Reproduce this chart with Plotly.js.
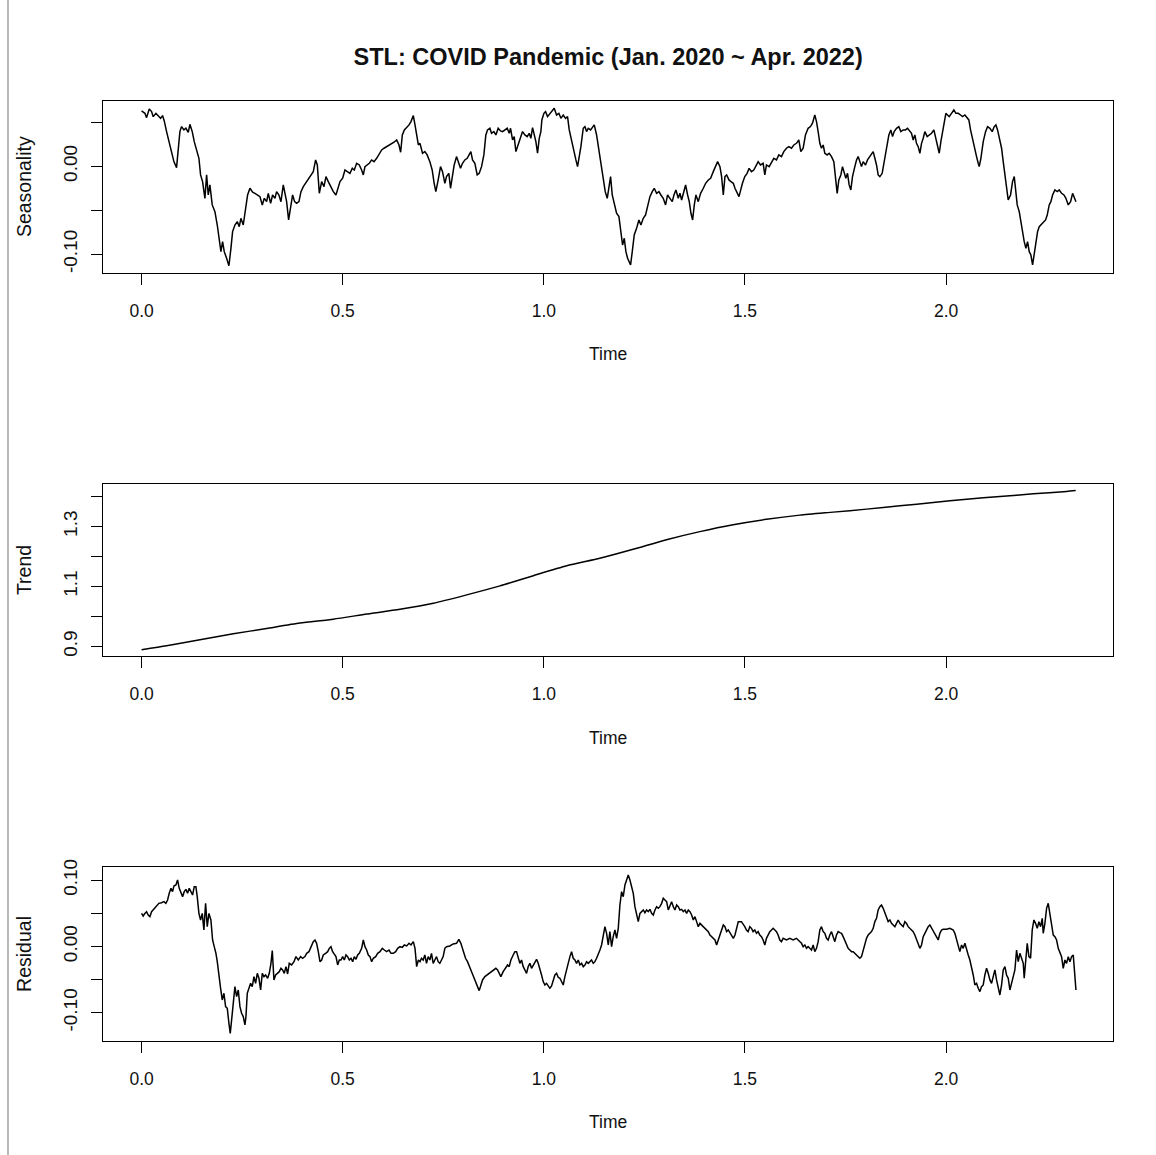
<!DOCTYPE html>
<html>
<head>
<meta charset="utf-8">
<script src="https://cdn.plot.ly/plotly-3.0.1.min.js"></script>
<style>html,body{margin:0;padding:0;background:#fff;}#chart{width:1156px;height:1155px;}</style>
</head>
<body>
<div id="chart"></div>
<script>
// ---------- data ----------
var chartTitle = "STL: COVID Pandemic (Jan. 2020 ~ Apr. 2022)";
var timeTickVals = [0, 0.5, 1, 1.5, 2];
var timeTickText = ["0.0", "0.5", "1.0", "1.5", "2.0"];
var seasTickVals = [-0.10, -0.05, 0.00, 0.05];
var seasTickText = ["-0.10", "", "0.00", ""];
var trendTickVals = [0.9, 1.0, 1.1, 1.2, 1.3, 1.4];
var trendTickText = ["0.9", "", "1.1", "", "1.3", ""];
var residTickVals = [-0.10, -0.05, 0.00, 0.05, 0.10];
var residTickText = ["-0.10", "", "0.00", "", "0.10"];

var seasTime = [
0.0000,0.0083,0.0124,0.0191,0.0249,0.0290,0.0356,0.0415,0.0473,0.0522,
0.0564,0.0622,0.0688,0.0746,0.0804,0.0870,0.0912,0.0953,0.0995,0.1053,
0.1103,0.1161,0.1202,0.1260,0.1310,0.1368,0.1426,0.1467,0.1517,0.1575,
0.1617,0.1658,0.1699,0.1757,0.1824,0.1882,0.1932,0.1973,0.2014,0.2056,
0.2114,0.2172,0.2222,0.2263,0.2321,0.2379,0.2429,0.2470,0.2528,0.2586,
0.2636,0.2694,0.2761,0.2819,0.2877,0.2943,0.3001,0.3051,0.3109,0.3150,
0.3208,0.3258,0.3316,0.3357,0.3415,0.3465,0.3523,0.3573,0.3606,0.3656,
0.3706,0.3755,0.3805,0.3855,0.3913,0.3963,0.4021,0.4079,0.4145,0.4203,
0.4269,0.4327,0.4369,0.4419,0.4477,0.4535,0.4584,0.4642,0.4700,0.4767,
0.4833,0.4875,0.4933,0.4999,0.5057,0.5115,0.5181,0.5239,0.5289,0.5347,
0.5413,0.5471,0.5513,0.5554,0.5612,0.5662,0.5720,0.5778,0.5844,0.5902,
0.5969,0.6027,0.6093,0.6159,0.6217,0.6276,0.6342,0.6400,0.6441,0.6483,
0.6533,0.6591,0.6649,0.6698,0.6756,0.6798,0.6839,0.6881,0.6922,
0.6984,0.7042,0.7100,0.7167,0.7225,0.7274,0.7316,0.7374,0.7432,0.7482,
0.7540,0.7581,0.7639,0.7681,0.7722,0.7772,0.7830,0.7888,0.7929,0.7979,
0.8037,0.8095,0.8145,0.8186,0.8228,0.8286,0.8344,0.8394,0.8452,0.8510,
0.8559,0.8601,0.8659,0.8700,0.8758,0.8808,0.8866,0.8924,0.8974,0.9032,
0.9090,0.9140,0.9173,0.9223,0.9264,0.9306,0.9364,0.9422,0.9471,0.9529,
0.9587,0.9637,0.9678,0.9720,0.9761,0.9803,0.9844,0.9886,0.9927,0.9952,
1.0002,1.0043,1.0093,1.0151,1.0209,1.0259,1.0317,1.0375,1.0425,1.0483,
1.0541,1.0590,1.0632,1.0690,1.0748,1.0798,1.0839,1.0881,1.0922,1.0980,
1.1022,1.1063,1.1105,1.1163,1.1212,1.1254,1.1312,1.1370,1.1420,1.1478,
1.1527,1.1577,1.1618,1.1660,1.1701,1.1751,1.1809,1.1867,1.1917,1.1958,
1.2000,1.2041,1.2083,1.2124,1.2157,1.2199,1.2248,1.2306,1.2364,1.2414,
1.2472,1.2530,1.2580,1.2638,1.2696,1.2746,1.2804,1.2862,1.2911,1.2969,
1.3027,1.3077,1.3135,1.3193,1.3235,1.3284,1.3343,1.3384,1.3426,1.3484,
1.3525,1.3575,1.3616,1.3658,1.3699,1.3741,1.3782,1.3840,1.3898,1.3965,
1.4023,1.4089,1.4147,1.4213,1.4271,1.4321,1.4379,1.4420,1.4462,1.4503,
1.4545,1.4603,1.4653,1.4711,1.4752,1.4794,1.4852,
1.4938,1.4996,1.5054,1.5104,1.5162,1.5220,1.5287,1.5328,1.5386,1.5452,
1.5494,1.5535,1.5602,1.5660,1.5718,1.5784,1.5842,1.5908,1.5966,1.6033,
1.6091,1.6157,1.6215,1.6281,1.6339,1.6389,1.6447,1.6505,1.6571,1.6629,
1.6679,1.6737,1.6779,1.6820,1.6862,1.6903,1.6945,1.6986,1.7044,1.7094,
1.7152,1.7210,1.7251,1.7293,1.7334,1.7384,1.7425,1.7467,1.7508,1.7550,
1.7591,1.7633,1.7674,1.7732,1.7774,1.7815,1.7856,1.7898,1.7939,1.7997,
1.8047,1.8105,1.8147,1.8188,1.8230,1.8271,1.8312,1.8354,1.8412,1.8462,
1.8520,1.8578,1.8627,1.8669,1.8710,1.8768,1.8826,1.8876,1.8934,1.8992,
1.9042,1.9100,1.9141,1.9183,1.9224,1.9265,1.9307,1.9349,1.9390,1.9432,
1.9473,1.9531,1.9581,1.9639,1.9697,1.9746,1.9788,1.9830,1.9871,1.9904,
1.9945,1.9995,2.0036,2.0078,2.0136,2.0194,2.0244,2.0302,2.0360,2.0410,
2.0468,2.0526,2.0567,2.0609,2.0658,2.0716,2.0758,2.0799,2.0824,2.0866,
2.0924,2.0982,2.1032,2.1090,2.1148,2.1197,2.1239,2.1280,2.1322,2.1380,
2.1421,2.1463,2.1504,2.1545,2.1603,2.1653,2.1695,2.1736,2.1769,2.1819,
2.1861,2.1902,2.1943,2.1985,2.2026,2.2068,2.2109,2.2151,2.2192,2.2234,
2.2275,2.2316,2.2358,2.2416,2.2474,2.2515,2.2565,2.2606,2.2648,2.2706,
2.2764,2.2814,2.2872,2.2930,2.2980,2.3038,2.3096,2.3146,2.3187,2.3229
];
var seasValue = [
0.0629,0.0602,0.0553,0.0652,0.0621,0.0564,0.0602,0.0576,0.0545,0.0576,
0.0515,0.0394,0.0280,0.0167,0.0053,-0.0015,0.0167,0.0394,0.0451,0.0413,
0.0432,0.0386,0.0477,0.0394,0.0280,0.0167,0.0091,-0.0098,-0.0174,-0.0364,
-0.0098,-0.0326,-0.0212,-0.0439,-0.0515,-0.0667,-0.0856,-0.0970,-0.0856,-0.0970,
-0.1045,-0.1129,-0.0932,-0.0742,-0.0667,-0.0629,-0.0686,-0.0591,-0.0667,-0.0477,
-0.0326,-0.0250,-0.0295,-0.0307,-0.0326,-0.0345,-0.0439,-0.0364,-0.0402,-0.0307,
-0.0420,-0.0326,-0.0364,-0.0288,-0.0326,-0.0402,-0.0212,-0.0326,-0.0402,-0.0610,
-0.0439,-0.0326,-0.0402,-0.0420,-0.0402,-0.0288,-0.0231,-0.0193,-0.0136,-0.0098,
-0.0061,0.0072,0.0015,-0.0307,-0.0174,-0.0231,-0.0117,-0.0174,-0.0231,-0.0288,
-0.0326,-0.0250,-0.0174,-0.0136,-0.0042,-0.0061,-0.0080,-0.0023,-0.0042,0.0034,
0.0015,-0.0042,-0.0098,-0.0004,0.0015,0.0034,0.0072,0.0053,0.0091,0.0129,
0.0186,0.0205,0.0223,0.0242,0.0250,0.0273,0.0299,0.0242,0.0159,0.0356,
0.0413,0.0439,0.0470,0.0508,0.0576,0.0470,0.0356,0.0242,0.0261,
0.0148,0.0167,0.0129,0.0053,-0.0042,-0.0193,-0.0288,-0.0155,-0.0004,-0.0061,
-0.0193,-0.0117,-0.0080,-0.0250,-0.0117,0.0015,0.0110,0.0034,-0.0023,0.0034,
0.0072,0.0091,0.0129,0.0167,0.0072,0.0034,-0.0098,-0.0080,-0.0004,0.0129,
0.0356,0.0413,0.0432,0.0375,0.0394,0.0356,0.0432,0.0402,0.0394,0.0413,
0.0432,0.0375,0.0432,0.0299,0.0337,0.0167,0.0242,0.0318,0.0394,0.0356,
0.0337,0.0375,0.0318,0.0439,0.0356,0.0280,0.0148,0.0318,0.0394,0.0527,
0.0602,0.0621,0.0564,0.0602,0.0640,0.0659,0.0583,0.0602,0.0545,0.0583,
0.0545,0.0564,0.0413,0.0280,0.0186,0.0072,-0.0004,0.0091,0.0223,0.0432,
0.0451,0.0394,0.0432,0.0413,0.0451,0.0470,0.0356,0.0186,0.0015,-0.0136,
-0.0288,-0.0364,-0.0250,-0.0117,-0.0326,-0.0439,-0.0534,-0.0572,-0.0742,-0.0894,
-0.0818,-0.0970,-0.1045,-0.1083,-0.1121,-0.0970,-0.0780,-0.0705,-0.0610,-0.0667,
-0.0591,-0.0553,-0.0439,-0.0345,-0.0288,-0.0250,-0.0307,-0.0288,-0.0326,-0.0364,
-0.0439,-0.0326,-0.0364,-0.0402,-0.0326,-0.0269,-0.0364,-0.0307,-0.0383,-0.0288,
-0.0212,-0.0326,-0.0402,-0.0534,-0.0610,-0.0439,-0.0326,-0.0402,-0.0307,-0.0250,
-0.0193,-0.0155,-0.0136,-0.0061,-0.0004,0.0053,-0.0004,-0.0117,-0.0326,-0.0117,
-0.0098,-0.0155,-0.0174,-0.0193,-0.0250,-0.0288,-0.0345,
-0.0193,-0.0117,-0.0080,-0.0023,-0.0061,-0.0042,0.0015,0.0053,0.0015,0.0034,
-0.0098,0.0015,-0.0004,0.0053,0.0091,0.0072,0.0129,0.0110,0.0167,0.0205,
0.0223,0.0205,0.0242,0.0261,0.0299,0.0167,0.0205,0.0356,0.0432,0.0451,
0.0489,0.0583,0.0508,0.0394,0.0261,0.0205,0.0242,0.0148,0.0129,0.0148,
0.0110,0.0053,-0.0098,-0.0307,-0.0155,-0.0098,-0.0004,-0.0061,-0.0136,-0.0080,
-0.0212,-0.0269,-0.0117,-0.0004,0.0072,0.0110,0.0053,-0.0004,0.0053,0.0015,
0.0072,0.0110,0.0129,0.0167,0.0091,0.0015,-0.0098,-0.0117,-0.0080,0.0053,
0.0242,0.0356,0.0413,0.0337,0.0394,0.0432,0.0451,0.0394,0.0413,0.0413,
0.0432,0.0394,0.0375,0.0299,0.0356,0.0261,0.0223,0.0148,0.0261,0.0318,
0.0394,0.0337,0.0356,0.0375,0.0413,0.0318,0.0261,0.0148,0.0280,0.0375,
0.0470,0.0602,0.0583,0.0564,0.0602,0.0640,0.0602,0.0602,0.0583,0.0564,
0.0583,0.0545,0.0527,0.0413,0.0299,0.0186,0.0110,0.0034,-0.0004,0.0091,
0.0280,0.0394,0.0451,0.0432,0.0394,0.0451,0.0470,0.0413,0.0318,0.0205,
0.0053,-0.0098,-0.0250,-0.0383,-0.0326,-0.0174,-0.0117,-0.0326,-0.0439,-0.0515,
-0.0629,-0.0780,-0.0856,-0.0932,-0.0856,-0.0970,-0.1008,-0.1121,-0.1008,-0.0856,
-0.0742,-0.0686,-0.0667,-0.0629,-0.0610,-0.0553,-0.0439,-0.0402,-0.0326,-0.0269,
-0.0288,-0.0269,-0.0307,-0.0326,-0.0364,-0.0439,-0.0402,-0.0307,-0.0364,-0.0402
];

var trendTime = [0.0000,0.0622,0.1451,0.2280,0.3109,0.3938,0.4767,0.5596,0.6425,0.7254,
0.8083,0.8912,0.9741,1.0570,1.1392,1.2221,1.3050,1.3879,1.4708,1.5537,
1.6366,1.7195,1.8024,1.8853,1.9682,2.0511,2.1340,2.2169,2.2998,2.3222];
var trendValue = [0.889,0.902,0.922,0.942,0.960,0.978,0.991,1.008,1.024,1.044,
1.072,1.102,1.136,1.169,1.194,1.224,1.256,1.283,1.306,1.324,
1.338,1.348,1.358,1.369,1.380,1.391,1.400,1.409,1.417,1.420];

var residTime = [
0.0000,0.0041,0.0083,0.0124,0.0166,0.0207,0.0249,0.0307,0.0373,0.0431,
0.0497,0.0555,0.0605,0.0647,0.0688,0.0730,0.0771,0.0804,0.0854,0.0895,
0.0937,0.0978,0.1020,0.1061,0.1103,0.1144,0.1185,0.1227,0.1268,0.1310,
0.1351,0.1384,0.1426,0.1467,0.1509,0.1550,0.1592,0.1633,0.1675,0.1724,
0.1766,0.1807,0.1849,0.1882,0.1923,0.1965,0.2006,0.2048,0.2089,0.2131,
0.2172,0.2205,0.2247,0.2280,0.2321,0.2363,0.2404,0.2446,0.2487,0.2528,
0.2570,0.2595,0.2628,0.2670,0.2711,0.2752,0.2794,0.2835,0.2877,0.2918,
0.2960,0.3001,0.3043,0.3084,0.3134,0.3175,0.3217,0.3250,0.3291,0.3333,
0.3374,0.3424,0.3465,0.3507,0.3548,0.3590,0.3631,0.3672,0.3731,0.3789,
0.3838,0.3896,0.3954,0.4004,0.4062,0.4104,0.4162,0.4211,0.4269,0.4311,
0.4352,0.4394,0.4435,0.4477,0.4518,0.4576,0.4626,0.4667,0.4709,0.4750,
0.4792,0.4833,0.4875,0.4916,0.4957,0.4999,0.5040,0.5082,0.5123,0.5165,
0.5206,0.5248,0.5289,0.5331,0.5372,0.5413,0.5471,0.5513,0.5554,0.5596,
0.5637,0.5679,0.5720,0.5762,0.5820,0.5869,0.5927,0.5985,0.6035,0.6093,
0.6151,0.6201,0.6259,0.6317,0.6367,0.6425,0.6483,0.6533,0.6591,0.6649,
0.6698,0.6756,0.6798,0.6839,0.6881,0.6922,
0.6959,0.7001,0.7042,0.7084,0.7125,0.7167,0.7208,0.7250,0.7291,0.7333,
0.7374,0.7415,0.7457,0.7498,0.7540,0.7581,0.7664,0.7747,0.7830,0.7888,
0.7938,0.7996,0.8054,0.8103,0.8161,0.8219,0.8269,0.8311,0.8352,0.8394,
0.8435,0.8477,0.8535,0.8593,0.8642,0.8700,0.8758,0.8808,0.8850,0.8891,
0.8932,0.8990,0.9048,0.9098,0.9140,0.9181,0.9239,0.9281,0.9322,0.9364,
0.9405,0.9446,0.9488,0.9529,0.9571,0.9612,0.9654,0.9695,0.9737,0.9778,
0.9820,0.9861,0.9902,0.9944,0.9985,1.0027,1.0068,1.0110,1.0151,1.0193,
1.0234,1.0276,1.0317,1.0358,1.0400,1.0441,1.0483,1.0524,1.0566,1.0607,
1.0649,1.0690,1.0731,1.0773,1.0814,1.0856,1.0897,1.0939,1.0980,1.1022,
1.1063,1.1105,1.1146,1.1187,1.1229,1.1270,1.1312,1.1353,1.1395,1.1436,
1.1478,1.1519,1.1561,1.1602,1.1643,1.1685,1.1726,1.1768,1.1809,1.1851,
1.1892,1.1934,1.1975,1.2017,1.2058,1.2099,1.2141,1.2182,1.2224,1.2265,
1.2307,1.2348,1.2390,1.2431,1.2473,1.2514,1.2555,1.2597,1.2638,1.2680,
1.2721,1.2763,1.2804,1.2846,1.2887,1.2929,1.2970,1.3011,1.3053,1.3094,
1.3136,1.3177,1.3219,1.3260,1.3302,1.3343,1.3384,1.3426,1.3467,1.3509,
1.3550,1.3592,1.3633,1.3675,1.3716,1.3757,1.3799,1.3840,1.3882,1.3923,
1.3965,1.4006,1.4048,1.4089,1.4130,1.4172,1.4213,1.4255,1.4296,1.4338,
1.4379,1.4420,1.4462,1.4503,1.4545,1.4586,1.4628,1.4669,1.4711,1.4752,
1.4794,1.4835,
1.4913,1.4955,1.4996,1.5038,1.5079,1.5121,1.5162,1.5204,1.5245,1.5287,
1.5328,1.5369,1.5411,1.5452,1.5494,1.5535,1.5577,1.5618,1.5660,1.5701,
1.5743,1.5784,1.5825,1.5867,1.5908,1.5950,1.6033,1.6116,1.6198,1.6281,
1.6323,1.6364,1.6406,1.6447,1.6489,1.6530,1.6571,1.6613,1.6654,1.6696,
1.6737,1.6779,1.6820,1.6862,1.6903,1.6945,1.6986,1.7028,1.7069,1.7110,
1.7152,1.7193,1.7235,1.7276,1.7318,1.7359,1.7401,1.7442,1.7483,1.7525,
1.7566,1.7608,1.7649,1.7691,1.7732,1.7774,1.7815,1.7856,1.7898,1.7939,
1.7981,1.8022,1.8064,1.8105,1.8147,1.8188,1.8230,1.8271,1.8312,1.8354,
1.8395,1.8437,1.8478,1.8520,1.8561,1.8603,1.8644,1.8685,1.8727,1.8768,
1.8810,1.8851,1.8893,1.8934,1.8976,1.9017,1.9058,1.9100,1.9141,1.9183,
1.9224,1.9265,1.9307,1.9349,1.9390,1.9432,1.9473,1.9514,1.9556,1.9597,
1.9639,1.9680,1.9722,1.9763,1.9805,1.9846,1.9888,1.9929,2.0012,2.0095,
2.0178,2.0219,2.0261,2.0302,2.0343,2.0385,2.0426,2.0468,2.0509,2.0551,
2.0592,2.0634,2.0675,2.0716,2.0758,2.0799,2.0841,2.0882,2.0924,2.0965,
2.1007,2.1048,2.1090,2.1131,2.1172,2.1214,2.1255,2.1297,2.1338,2.1380,
2.1421,2.1463,2.1504,2.1546,2.1587,2.1628,2.1670,2.1711,2.1753,2.1794,
2.1836,2.1877,2.1919,2.1943,2.1985,2.2018,2.2060,2.2101,2.2142,2.2184,
2.2225,2.2267,2.2308,2.2350,2.2391,2.2416,2.2457,2.2499,2.2540,2.2582,
2.2623,2.2665,2.2706,2.2748,2.2789,2.2830,2.2872,2.2913,2.2955,2.2996,
2.3038,2.3079,2.3121,2.3162,2.3187,2.3229
];
var residValue = [
0.0500,0.0460,0.0500,0.0525,0.0475,0.0450,0.0525,0.0561,0.0611,0.0651,
0.0661,0.0676,0.0651,0.0701,0.0802,0.0877,0.0827,0.0913,0.0928,0.1003,
0.0877,0.0827,0.0752,0.0827,0.0862,0.0802,0.0877,0.0827,0.0777,0.0903,
0.0903,0.0752,0.0500,0.0400,0.0500,0.0249,0.0651,0.0299,0.0500,0.0400,
0.0098,-0.0003,-0.0103,-0.0229,-0.0455,-0.0631,-0.0807,-0.0706,-0.0908,-0.0933,
-0.1159,-0.1310,-0.1058,-0.0807,-0.0606,-0.0757,-0.0656,-0.0908,-0.1008,-0.1058,
-0.1184,-0.1058,-0.0706,-0.0631,-0.0556,-0.0606,-0.0455,-0.0556,-0.0405,-0.0480,
-0.0656,-0.0405,-0.0455,-0.0430,-0.0480,-0.0405,-0.0254,-0.0063,-0.0505,-0.0430,
-0.0405,-0.0380,-0.0329,-0.0354,-0.0405,-0.0304,-0.0415,-0.0254,-0.0279,-0.0229,
-0.0153,-0.0204,-0.0153,-0.0178,-0.0153,-0.0103,-0.0078,-0.0003,0.0073,0.0098,
0.0048,-0.0078,-0.0229,-0.0204,-0.0128,-0.0103,-0.0078,-0.0028,-0.0003,-0.0078,
-0.0128,-0.0153,-0.0279,-0.0204,-0.0204,-0.0153,-0.0204,-0.0128,-0.0153,-0.0204,
-0.0178,-0.0229,-0.0153,-0.0194,-0.0128,-0.0103,-0.0028,0.0098,-0.0003,-0.0053,
-0.0128,-0.0153,-0.0229,-0.0178,-0.0153,-0.0103,-0.0078,-0.0028,-0.0053,-0.0078,
-0.0053,-0.0103,-0.0103,-0.0078,-0.0028,-0.0003,-0.0013,0.0023,0.0008,0.0048,
0.0023,0.0073,-0.0028,-0.0304,-0.0204,-0.0229,
-0.0178,-0.0204,-0.0128,-0.0254,-0.0153,-0.0204,-0.0103,-0.0254,-0.0204,-0.0153,
-0.0229,-0.0254,-0.0204,-0.0153,-0.0028,-0.0003,0.0008,0.0038,0.0048,0.0108,
0.0048,-0.0078,-0.0178,-0.0229,-0.0304,-0.0405,-0.0480,-0.0556,-0.0606,-0.0666,
-0.0581,-0.0505,-0.0455,-0.0430,-0.0405,-0.0380,-0.0354,-0.0329,-0.0354,-0.0405,
-0.0455,-0.0380,-0.0329,-0.0279,-0.0304,-0.0204,-0.0128,-0.0078,-0.0078,-0.0153,
-0.0254,-0.0204,-0.0304,-0.0354,-0.0405,-0.0304,-0.0254,-0.0329,-0.0279,-0.0229,
-0.0194,-0.0254,-0.0329,-0.0430,-0.0530,-0.0581,-0.0556,-0.0606,-0.0631,-0.0596,
-0.0505,-0.0430,-0.0405,-0.0465,-0.0480,-0.0530,-0.0581,-0.0455,-0.0354,-0.0229,
-0.0153,-0.0078,-0.0178,-0.0204,-0.0254,-0.0204,-0.0279,-0.0254,-0.0304,-0.0279,
-0.0229,-0.0254,-0.0229,-0.0204,-0.0254,-0.0229,-0.0178,-0.0128,-0.0053,0.0023,
0.0148,0.0299,0.0199,0.0023,0.0224,-0.0003,0.0148,0.0249,0.0123,0.0274,
0.0626,0.0827,0.0752,0.0928,0.1003,0.1078,0.1003,0.0903,0.0802,0.0601,
0.0475,0.0375,0.0500,0.0525,0.0551,0.0510,0.0551,0.0525,0.0561,0.0500,
0.0475,0.0551,0.0601,0.0576,0.0601,0.0651,0.0727,0.0701,0.0676,0.0551,
0.0626,0.0676,0.0601,0.0551,0.0626,0.0601,0.0551,0.0561,0.0525,0.0551,
0.0500,0.0551,0.0525,0.0475,0.0400,0.0450,0.0375,0.0299,0.0349,0.0324,
0.0299,0.0274,0.0249,0.0224,0.0173,0.0148,0.0123,0.0098,0.0023,0.0098,
0.0173,0.0274,0.0324,0.0299,0.0224,0.0249,0.0199,0.0173,0.0123,0.0173,
0.0299,0.0375,
0.0375,0.0324,0.0299,0.0249,0.0224,0.0299,0.0274,0.0224,0.0249,0.0199,
0.0224,0.0173,0.0148,0.0098,0.0023,0.0123,0.0173,0.0224,0.0249,0.0274,
0.0249,0.0224,0.0173,0.0098,0.0073,0.0123,0.0098,0.0123,0.0098,0.0123,
0.0098,0.0073,0.0048,-0.0003,0.0023,-0.0028,-0.0003,-0.0028,-0.0053,0.0023,
-0.0078,-0.0028,0.0073,0.0249,0.0299,0.0224,0.0199,0.0123,0.0098,0.0173,
0.0224,0.0148,0.0073,0.0173,0.0224,0.0209,0.0199,0.0148,0.0098,0.0023,
-0.0028,-0.0053,-0.0078,-0.0078,-0.0103,-0.0128,-0.0153,-0.0178,-0.0153,-0.0053,
0.0048,0.0123,0.0173,0.0199,0.0224,0.0274,0.0375,0.0425,0.0551,0.0601,
0.0626,0.0576,0.0500,0.0450,0.0375,0.0400,0.0349,0.0324,0.0299,0.0349,
0.0400,0.0349,0.0324,0.0299,0.0375,0.0349,0.0299,0.0274,0.0249,0.0224,
0.0173,0.0098,0.0023,-0.0028,0.0023,0.0148,0.0199,0.0249,0.0299,0.0324,
0.0274,0.0249,0.0199,0.0148,0.0098,0.0199,0.0249,0.0259,0.0259,0.0274,
0.0249,0.0199,0.0098,-0.0003,-0.0078,0.0023,-0.0028,0.0048,-0.0053,-0.0128,
-0.0204,-0.0304,-0.0430,-0.0581,-0.0556,-0.0631,-0.0681,-0.0606,-0.0581,-0.0430,
-0.0329,-0.0405,-0.0505,-0.0556,-0.0430,-0.0354,-0.0505,-0.0631,-0.0732,-0.0581,
-0.0354,-0.0304,-0.0430,-0.0480,-0.0656,-0.0556,-0.0455,-0.0354,-0.0053,-0.0229,
-0.0103,-0.0178,-0.0254,-0.0480,-0.0153,0.0048,-0.0153,-0.0178,0.0249,0.0400,
0.0349,0.0274,0.0375,0.0299,0.0425,0.0199,0.0349,0.0576,0.0651,0.0475,
0.0299,0.0173,0.0148,0.0098,-0.0028,-0.0078,-0.0153,-0.0329,-0.0204,-0.0254,
-0.0153,-0.0229,-0.0153,-0.0128,-0.0354,-0.0656
];

// ---------- chart ----------
var FONT = "Liberation Sans, Arial, sans-serif";
var lineStyle = {color: "#000", width: 1.5};
var traces = [
  {x: seasTime, y: seasValue, type: "scatter", mode: "lines", line: lineStyle, xaxis: "x", yaxis: "y", hoverinfo: "skip"},
  {x: trendTime, y: trendValue, type: "scatter", mode: "lines", line: {color: "#000", width: 1.5, shape: "spline", smoothing: 0.6}, xaxis: "x2", yaxis: "y2", hoverinfo: "skip"},
  {x: residTime, y: residValue, type: "scatter", mode: "lines", line: lineStyle, xaxis: "x3", yaxis: "y3", hoverinfo: "skip"}
];

var XDOM = [0.0894, 0.9628];
function xAx(anchor) {
  return {
    domain: XDOM, anchor: anchor, range: [-0.095, 2.415],
    tickmode: "array", tickvals: timeTickVals, ticktext: timeTickText,
    ticks: "outside", ticklen: 11, tickwidth: 1, tickcolor: "#000",
    showline: true, linecolor: "#000", linewidth: 1, mirror: true,
    showgrid: false, zeroline: false, automargin: false,
    tickfont: {family: FONT, size: 17.5, color: "#111"},
    ticklabelstandoff: 11,
    title: {text: "Time", font: {family: FONT, size: 17.5, color: "#111"}, standoff: 28}
  };
}
function yAx(anchor, dom, rng, tv, tt, ttl) {
  return {
    domain: dom, anchor: anchor, range: rng,
    tickmode: "array", tickvals: tv, ticktext: tt, tickangle: -90,
    ticks: "outside", ticklen: 11, tickwidth: 1, tickcolor: "#000",
    showline: true, linecolor: "#000", linewidth: 1, mirror: true,
    showgrid: false, zeroline: false, automargin: false,
    tickfont: {family: FONT, size: 19, color: "#111"},
    ticklabelstandoff: 7,
    title: {text: ttl, font: {family: FONT, size: 19.5, color: "#111"}, standoff: 22}
  };
}

var layout = {
  width: 1156, height: 1155,
  margin: {l: 0, r: 0, t: 0, b: 0},
  paper_bgcolor: "#fff", plot_bgcolor: "#fff",
  showlegend: false,
  font: {family: FONT, color: "#111"},
  title: {text: "<b>" + chartTitle + "</b>", font: {family: FONT, size: 23.5, color: "#111"},
          x: 0.5261, xanchor: "center", xref: "paper", y: 0.9506, yanchor: "middle", yref: "paper"},
  xaxis: xAx("y"),
  yaxis: yAx("x", [0.7639, 0.9128], [-0.1209, 0.0745], seasTickVals, seasTickText, "Seasonality"),
  xaxis2: xAx("y2"),
  yaxis2: yAx("x2", [0.4320, 0.5810], [0.868, 1.442], trendTickVals, trendTickText, "Trend"),
  xaxis3: xAx("y3"),
  yaxis3: yAx("x3", [0.0990, 0.2491], [-0.1421, 0.1195], residTickVals, residTickText, "Residual"),
  shapes: [
    {type: "line", xref: "paper", yref: "paper", x0: 0.0069, x1: 0.0069, y0: 0, y1: 1,
     line: {color: "#b8b8b8", width: 2}}
  ]
};

Plotly.newPlot("chart", traces, layout, {staticPlot: true, displayModeBar: false});
</script>
</body>
</html>
